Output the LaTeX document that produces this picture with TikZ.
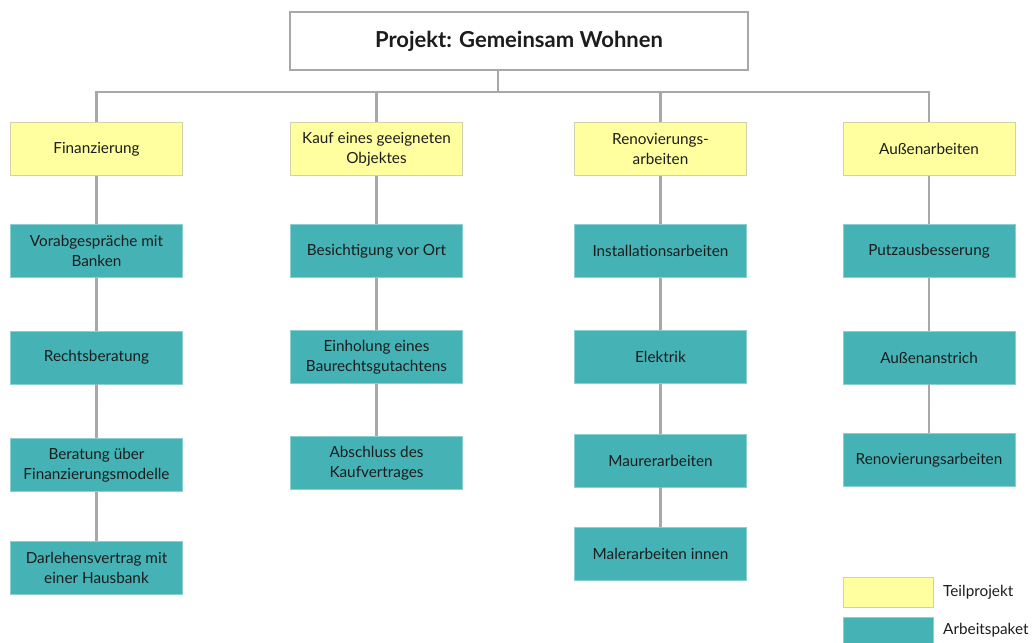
\documentclass[tikz,border=0pt]{standalone}
\usepackage{fontspec}
\setmainfont{Lato}
\definecolor{teal1}{HTML}{45B3B5}
\definecolor{tealb}{HTML}{8CCFD0}
\definecolor{yel}{HTML}{FFFFA0}
\definecolor{yelb}{HTML}{D2D2A8}
\definecolor{lin}{HTML}{A8A8A8}
\definecolor{txt}{HTML}{1C1C1C}
\begin{document}
\begin{tikzpicture}[x=1pt,y=-1pt,
  base/.style={rectangle, minimum width=172pt, minimum height=53pt, inner sep=1pt, align=center, text=txt, font=\fontsize{15.3}{20}\selectfont, line width=0.9pt},
  teil/.style={base, fill=yel, draw=yelb},
  paket/.style={base, fill=teal1, draw=tealb},
  conn/.style={draw=lin, line width=2.4pt},
  lab/.style={anchor=west, text=txt, font=\fontsize{15.3}{18}\selectfont, inner sep=0pt}]
\useasboundingbox (0,0) rectangle (1032,642);
\node[draw=lin, line width=2pt, minimum width=458pt, minimum height=58pt, fill=white, font=\bfseries\fontsize{22}{24}\selectfont, text=txt] (top) at (519,41) {Projekt: Gemeinsam Wohnen};
\coordinate (tc) at (498,92);
% yellow
\node[teil] (y1) at (96.5,149) {Finanzierung};
\node[teil] (y2) at (376.5,149) {Kauf eines geeigneten\\Objektes};
\node[teil] (y3) at (660.5,149) {Renovierungs-\\arbeiten};
\node[teil] (y4) at (929,149) {Außenarbeiten};
% column 1
\node[paket] (a1) at (96.5,251) {Vorabgespräche mit\\Banken};
\node[paket] (a2) at (96.5,357.5) {Rechtsberatung};
\node[paket] (a3) at (96.5,465) {Beratung über\\Finanzierungsmodelle};
\node[paket] (a4) at (96.5,567.5) {Darlehensvertrag mit\\einer Hausbank};
% column 2
\node[paket] (b1) at (376.5,251) {Besichtigung vor Ort};
\node[paket] (b2) at (376.5,357) {Einholung eines\\Baurechtsgutachtens};
\node[paket] (b3) at (376.5,463) {Abschluss des\\Kaufvertrages};
% column 3
\node[paket] (c1) at (660.5,251) {Installationsarbeiten};
\node[paket] (c2) at (660.5,357) {Elektrik};
\node[paket] (c3) at (660.5,460.5) {Maurerarbeiten};
\node[paket] (c4) at (660.5,553.5) {Malerarbeiten innen};
% column 4
\node[paket] (d1) at (929,251) {Putzausbesserung};
\node[paket] (d2) at (929,357.5) {Außenanstrich};
\node[paket] (d3) at (929,460) {Renovierungsarbeiten};
% connectors
\draw[conn] (top.south -| tc) -- (tc);
\draw[conn] (y1.north) -- (y1.north |- tc) -- (y4.north |- tc) -- (y4.north);
\draw[conn] (y2.north) -- (y2.north |- tc);
\draw[conn] (y3.north) -- (y3.north |- tc);
\draw[conn] (y1.south) -- (a1.north) (a1.south) -- (a2.north) (a2.south) -- (a3.north) (a3.south) -- (a4.north);
\draw[conn] (y2.south) -- (b1.north) (b1.south) -- (b2.north) (b2.south) -- (b3.north);
\draw[conn] (y3.south) -- (c1.north) (c1.south) -- (c2.north) (c2.south) -- (c3.north) (c3.south) -- (c4.north);
\draw[conn] (y4.south) -- (d1.north) (d1.south) -- (d2.north) (d2.south) -- (d3.north);
% legend
\node[fill=yel, draw=yelb, line width=0.9pt, minimum width=90pt, minimum height=30pt, inner sep=0pt] (ly) at (888,592) {};
\node[fill=teal1, draw=tealb, line width=0.9pt, minimum width=90pt, minimum height=30pt, inner sep=0pt] (lt) at (888,632) {};
\node[lab] (lyt) at (943,592) {Teilprojekt};
\node[lab] (ltt) at (943,630) {Arbeitspaket};
\end{tikzpicture}
\end{document}
